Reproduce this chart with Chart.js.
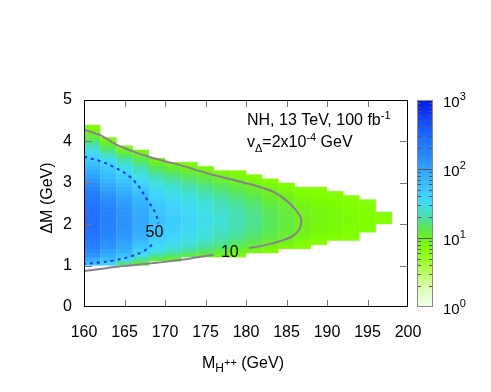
<!DOCTYPE html>
<html>
<head>
<meta charset="utf-8">
<script src="https://cdn.jsdelivr.net/npm/chart.js@4.4.0/dist/chart.umd.min.js"></script>
<style>
  html, body { margin: 0; padding: 0; background: #fff; }
</style>
</head>
<body>
<canvas id="c" width="491" height="392"></canvas>
<script>
/* ─── data: 2D histogram, M_H++ bins of 2 GeV, ΔM bins of 0.1 GeV ─── */
const M_STEP = 2;
const DM_STEP = 0.1;
const M_LEFT = [160, 162, 164, 166, 168, 170, 172, 174, 176, 178, 180, 182, 184, 186, 188, 190, 192, 194, 196];
const DM_BOTTOM = [1.0, 1.0, 1.0, 1.0, 1.1, 1.1, 1.2, 1.2, 1.2, 1.2, 1.3, 1.3, 1.4, 1.4, 1.5, 1.6, 1.6, 1.8, 2.0];
// log10(events) per column, from the lowest ΔM bin upward
const LOG_N = [
  [1.75,1.95,2.1,2.2,2.28,2.33,2.37,2.4,2.42,2.44,2.45,2.45,2.44,2.42,2.4,2.37,2.33,2.28,2.22,2.16,2.09,2.01,1.93,1.85,1.77,1.69,1.6,1.5,1.39,1.27,1.15,1.03,0.92,0.85],
  [1.6,1.78,1.92,2.02,2.1,2.16,2.2,2.23,2.25,2.27,2.28,2.28,2.27,2.25,2.22,2.18,2.13,2.07,2.0,1.93,1.86,1.8,1.74,1.68,1.6,1.5,1.39,1.27,1.14,1.02,0.9],
  [1.25,1.55,1.75,1.88,1.96,2.02,2.06,2.09,2.11,2.12,2.13,2.13,2.12,2.1,2.07,2.03,1.98,1.92,1.86,1.8,1.73,1.66,1.58,1.5,1.41,1.3,1.18,1.05,0.92],
  [1.05,1.3,1.48,1.62,1.72,1.8,1.86,1.9,1.93,1.95,1.96,1.96,1.95,1.93,1.9,1.86,1.81,1.75,1.69,1.62,1.55,1.48,1.41,1.33,1.24,1.14,1.03,0.92],
  [1.1,1.3,1.45,1.55,1.62,1.67,1.7,1.72,1.74,1.75,1.75,1.74,1.72,1.69,1.66,1.62,1.57,1.52,1.46,1.4,1.33,1.25,1.16,1.05,0.93],
  [1.02,1.22,1.36,1.46,1.53,1.58,1.61,1.63,1.65,1.66,1.66,1.65,1.63,1.6,1.57,1.53,1.48,1.43,1.37,1.3,1.23,1.15,1.06,0.95],
  [1.12,1.27,1.37,1.44,1.49,1.52,1.54,1.56,1.57,1.57,1.56,1.54,1.52,1.49,1.45,1.4,1.35,1.29,1.22,1.15,1.07,0.98,0.9],
  [1.05,1.18,1.28,1.35,1.4,1.44,1.46,1.48,1.49,1.49,1.48,1.46,1.44,1.41,1.37,1.32,1.27,1.21,1.14,1.07,0.99,0.91],
  [0.98,1.1,1.2,1.27,1.32,1.36,1.38,1.4,1.41,1.41,1.4,1.38,1.36,1.33,1.29,1.24,1.19,1.13,1.06,0.99,0.91],
  [0.9,1.02,1.12,1.19,1.24,1.28,1.3,1.32,1.33,1.33,1.32,1.3,1.28,1.25,1.21,1.16,1.11,1.05,0.98,0.91,0.86],
  [0.93,1.04,1.11,1.16,1.2,1.22,1.24,1.25,1.25,1.24,1.22,1.2,1.17,1.13,1.08,1.03,0.97,0.91,0.86],
  [0.86,0.96,1.03,1.08,1.12,1.14,1.15,1.16,1.16,1.15,1.13,1.1,1.07,1.03,0.99,0.94,0.89,0.85],
  [0.9,0.97,1.01,1.04,1.06,1.07,1.08,1.08,1.07,1.06,1.04,1.01,0.98,0.94,0.9,0.86],
  [0.84,0.88,0.92,0.95,0.97,0.98,0.99,0.99,0.98,0.97,0.95,0.93,0.9,0.87,0.84],
  [0.84,0.87,0.89,0.91,0.92,0.93,0.93,0.92,0.91,0.9,0.88,0.86,0.84,0.82],
  [0.84,0.86,0.88,0.89,0.9,0.9,0.9,0.89,0.88,0.86,0.84,0.82],
  [0.82,0.84,0.86,0.87,0.88,0.88,0.87,0.86,0.85,0.83,0.81],
  [0.83,0.85,0.86,0.86,0.86,0.85,0.83,0.81],
  [0.82,0.83,0.82],
];

/* contour N = 10 (split around its label) */
const C10A_M  = [160, 162, 164, 166, 168, 170, 172, 174, 176, 178, 180, 182, 183.5, 184.8, 186, 186.8, 186.6, 185.8, 184.5, 182.5, 180.4];
const C10A_DM = [4.28, 4.15, 3.92, 3.76, 3.63, 3.52, 3.42, 3.3, 3.19, 3.09, 2.99, 2.88, 2.77, 2.6, 2.38, 2.12, 1.88, 1.72, 1.61, 1.5, 1.42];
const C10B_M  = [176, 174, 172, 170, 168, 166, 164, 162, 160];
const C10B_DM = [1.26, 1.2, 1.14, 1.09, 1.05, 1.01, 0.97, 0.92, 0.87];
/* contour N = 50 (split around its label) */
const C50A_M  = [160, 161.9, 163.6, 165.6, 166.8, 167.9, 168.8, 169.2];
const C50A_DM = [3.63, 3.53, 3.39, 3.16, 2.9, 2.56, 2.28, 2.02];
const C50B_M  = [168.4, 167.3, 165.7, 163.6, 161.6, 160];
const C50B_DM = [1.5, 1.34, 1.22, 1.12, 1.07, 1.04];

const X_TICKS = [160, 165, 170, 175, 180, 185, 190, 195, 200];
const Y_TICKS = [0, 1, 2, 3, 4, 5];
const CB_EXP = [0, 1, 2, 3];

/* ─── colour map (log10 N → rgb) ─── */
const CMAP = [
  [0.0,  [244, 255, 240]],
  [0.3,  [216, 255, 168]],
  [0.6,  [168, 255, 64]],
  [0.85, [128, 255, 0]],
  [1.0,  [112, 240, 32]],
  [1.15, [88, 232, 88]],
  [1.3,  [72, 224, 168]],
  [1.45, [64, 224, 224]],
  [1.6,  [64, 212, 255]],
  [1.8,  [56, 188, 255]],
  [2.0,  [48, 164, 255]],
  [2.2,  [40, 136, 255]],
  [2.45, [32, 112, 255]],
  [2.7,  [20, 72, 255]],
  [3.0,  [0, 24, 240]],
];
function cmap(v) {
  if (v <= CMAP[0][0]) return `rgb(${CMAP[0][1]})`;
  for (let i = 1; i < CMAP.length; i++) {
    if (v <= CMAP[i][0]) {
      const [a, ca] = CMAP[i - 1], [b, cb] = CMAP[i];
      const t = (v - a) / (b - a);
      const c = ca.map((k, j) => Math.round(k + (cb[j] - k) * t));
      return `rgb(${c.join(',')})`;
    }
  }
  return `rgb(${CMAP[CMAP.length - 1][1]})`;
}

const FONT = "'Liberation Sans', Arial, Helvetica, sans-serif";
const f = (px) => `${px}px ${FONT}`;

/* draw text pieces [text, size, dy] one after another */
function richText(ctx, x, y, parts) {
  let cx = x;
  parts.forEach(([t, size, dy]) => {
    ctx.font = f(size);
    ctx.fillText(t, cx, y + (dy || 0));
    cx += ctx.measureText(t).width;
  });
}

/* ─── heatmap cells ─── */
const heatmap = {
  id: 'heatmap',
  beforeDatasetsDraw(chart) {
    const { ctx, scales: { x, y } } = chart;
    ctx.save();
    M_LEFT.forEach((m, i) => {
      const x0 = x.getPixelForValue(m), x1 = x.getPixelForValue(m + M_STEP);
      const n = LOG_N[i].length;
      LOG_N[i].forEach((v, j) => {
        const lo = DM_BOTTOM[i] + j * DM_STEP;
        const y0 = y.getPixelForValue(lo + DM_STEP), y1 = y.getPixelForValue(lo);
        ctx.fillStyle = cmap(v);
        // small overlap hides most of the seams between rows
        const over = j < n - 1 ? 0.6 : 0;
        ctx.fillRect(x0, y0 - over, x1 - x0 + 0.2, y1 - y0 + over);
      });
    });
    ctx.restore();
  },
};

/* ─── frame, inward ticks, labels, colour bar ─── */
const decor = {
  id: 'decor',
  afterDatasetsDraw(chart) {
    const { ctx, chartArea: a, scales: { x, y } } = chart;
    ctx.save();

    // inward ticks
    ctx.strokeStyle = '#777';
    ctx.lineWidth = 1;
    ctx.beginPath();
    X_TICKS.slice(1, -1).forEach(t => {
      const px = Math.round(x.getPixelForValue(t)) + 0.5;
      ctx.moveTo(px, a.bottom); ctx.lineTo(px, a.bottom - 7);
      ctx.moveTo(px, a.top); ctx.lineTo(px, a.top + 7);
    });
    Y_TICKS.slice(1, -1).forEach(t => {
      const py = Math.round(y.getPixelForValue(t)) + 0.5;
      ctx.moveTo(a.left, py); ctx.lineTo(a.left + 8, py);
      ctx.moveTo(a.right, py); ctx.lineTo(a.right - 8, py);
    });
    ctx.stroke();

    // frame
    ctx.strokeStyle = '#000';
    ctx.strokeRect(Math.round(a.left) + 0.5, Math.round(a.top) + 0.5,
                   Math.round(a.right - a.left) - 1, Math.round(a.bottom - a.top) - 1);

    // contour labels
    ctx.fillStyle = '#000';
    ctx.textAlign = 'center';
    ctx.textBaseline = 'middle';
    ctx.font = f(16);
    ctx.fillText('50', x.getPixelForValue(168.7), y.getPixelForValue(1.8));
    ctx.fillText('10', x.getPixelForValue(178.0), y.getPixelForValue(1.32));

    // annotation
    ctx.textAlign = 'left';
    ctx.textBaseline = 'alphabetic';
    richText(ctx, 247, 125, [['NH, 13 TeV, 100 fb', 16], ['-1', 11, -6]]);
    richText(ctx, 247, 147, [['v', 16], ['\u0394', 11, 5], ['=2x10', 16], ['-4', 11, -6], [' GeV', 16]]);

    // x title
    richText(ctx, 202, 368, [['M', 16], ['H', 12, 4], ['++', 11, -2], [' (GeV)', 16]]);

    // y title
    ctx.save();
    ctx.translate(52, 198);
    ctx.rotate(-Math.PI / 2);
    ctx.textAlign = 'center';
    ctx.font = f(16);
    ctx.fillText('\u0394M (GeV)', 0, 0);
    ctx.restore();

    // colour bar
    const cbL = 417, cbR = 433, cbT = a.top, cbB = a.bottom;
    const hgt = cbB - cbT;
    for (let py = cbT; py < cbB; py++) {
      ctx.fillStyle = cmap(3 * (cbB - py - 0.5) / hgt);
      ctx.fillRect(cbL, py, cbR - cbL, 1);
    }
    ctx.strokeStyle = '#555';
    ctx.beginPath();
    for (let e = 0; e < 3; e++) {
      for (let k = 2; k <= 9; k++) {
        const py = Math.round(cbB - hgt * (e + Math.log10(k)) / 3) + 0.5;
        ctx.moveTo(cbL, py); ctx.lineTo(cbL + 4, py);
        ctx.moveTo(cbR, py); ctx.lineTo(cbR - 4, py);
      }
    }
    [1, 2].forEach(e => {
      const py = Math.round(cbB - hgt * e / 3) + 0.5;
      ctx.moveTo(cbL, py); ctx.lineTo(cbR, py);
    });
    ctx.stroke();
    ctx.strokeStyle = '#888';
    ctx.strokeRect(cbL + 0.5, cbT + 0.5, cbR - cbL - 1, hgt - 1);

    ctx.fillStyle = '#000';
    ctx.textBaseline = 'middle';
    CB_EXP.forEach(e => {
      const py = cbB - hgt * e / 3 + 3;
      richText(ctx, 443, py, [['10', 15], [String(e), 11, -6]]);
    });

    ctx.restore();
  },
};

const line = (xs, ys, color, width, dash) => ({
  data: xs.map((m, i) => ({ x: m, y: ys[i] })),
  showLine: true,
  borderColor: color,
  borderWidth: width,
  borderDash: dash || [],
  pointRadius: 0,
  tension: 0.35,
  fill: false,
});

new Chart(document.getElementById('c'), {
  type: 'scatter',
  data: {
    datasets: [
      line(C10A_M, C10A_DM, '#8a8090', 2),
      line(C10B_M, C10B_DM, '#8a8090', 2),
      line(C50A_M, C50A_DM, '#1a30ff', 2, [3, 4]),
      line(C50B_M, C50B_DM, '#1a30ff', 2, [3, 4]),
    ],
  },
  options: {
    responsive: false,
    animation: false,
    layout: { padding: { left: 0, right: 83, top: 100, bottom: 0 } },
    plugins: { legend: { display: false }, tooltip: { enabled: false } },
    scales: {
      x: {
        type: 'linear', min: 160, max: 200,
        afterFit(s) { s.height = 85; },
        afterBuildTicks(s) { s.ticks = X_TICKS.map(v => ({ value: v })); },
        ticks: { color: '#000', font: { size: 16, family: FONT }, padding: 16, maxRotation: 0 },
        grid: { display: false, drawTicks: false },
        border: { display: false },
      },
      y: {
        type: 'linear', min: 0, max: 5,
        afterFit(s) { s.width = 84; },
        afterBuildTicks(s) { s.ticks = Y_TICKS.map(v => ({ value: v })); },
        ticks: { color: '#000', font: { size: 16, family: FONT }, padding: 12 },
        grid: { display: false, drawTicks: false },
        border: { display: false },
      },
    },
  },
  plugins: [heatmap, decor],
});
</script>
</body>
</html>
